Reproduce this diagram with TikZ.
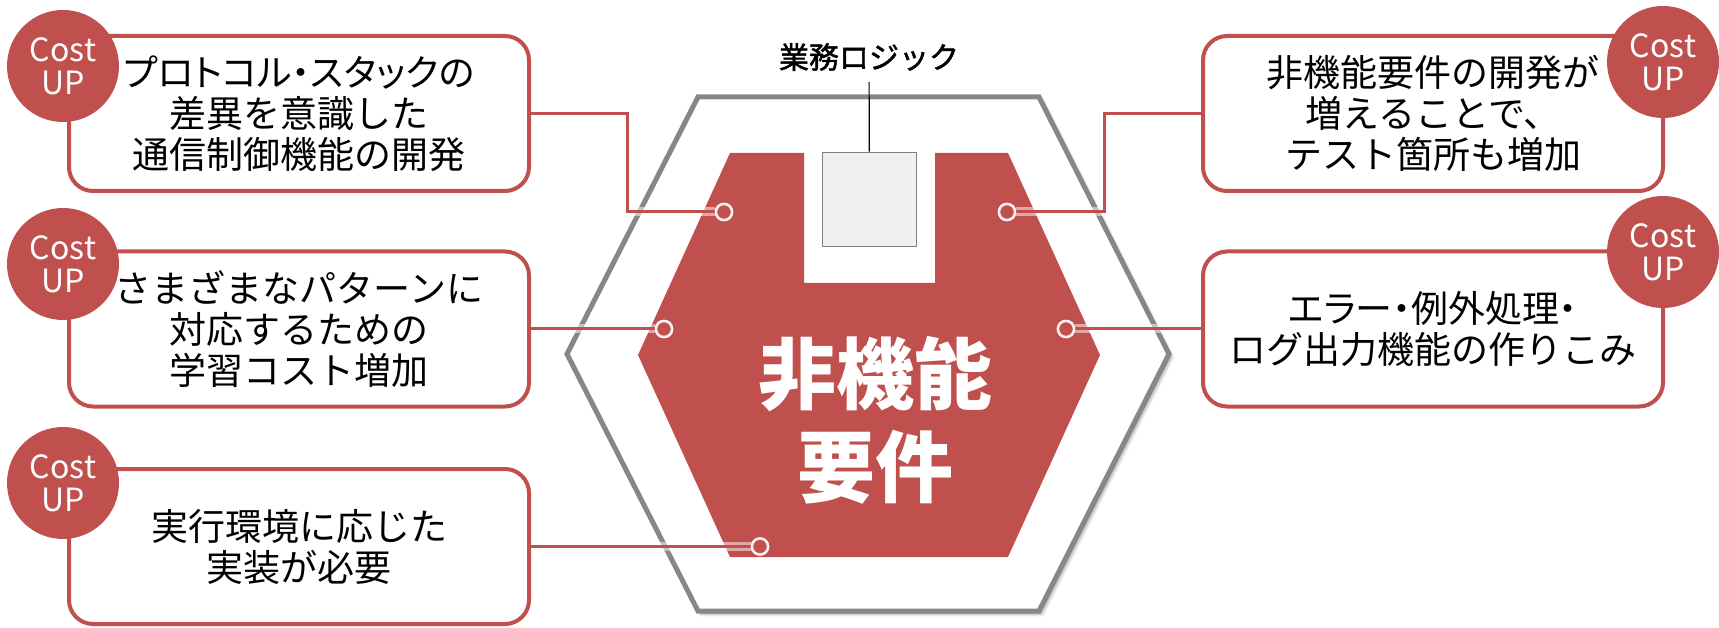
\documentclass[tikz,border=0pt]{standalone}
\usepackage{fontspec}
\setmainfont{Noto Sans CJK JP}
\usetikzlibrary{positioning,shadows.blur}

\definecolor{costred}{HTML}{C0504D}
\definecolor{hexgray}{HTML}{878787}
\definecolor{logicfill}{HTML}{F0F0F0}
\definecolor{logicline}{HTML}{7F7F7F}

\begin{document}
\begin{tikzpicture}[x=1pt,y=-1pt,
  costbox/.style={draw=costred,line width=4pt,rounded corners=24pt,fill=white,
    minimum width=460pt,minimum height=155pt,align=center,
    font=\fontsize{37}{41}\selectfont},
  costmark/.style={circle,fill=costred,minimum size=112pt,inner sep=0pt,
    text=white,align=center,font=\fontsize{32}{33}\selectfont},
  link/.style={draw=costred,line width=3pt,
    preaction={draw=white,line width=9pt,opacity=0.5}},
  joint/.style={circle,fill=costred,draw=white,draw opacity=0.85,
    line width=2.5pt,minimum size=16pt,inner sep=0pt}]

\useasboundingbox (0,0) rectangle (1719,628);

% hexagons
\draw[hexgray,line width=5pt,fill=white,
  blur shadow={shadow xshift=3pt,shadow yshift=-3pt,shadow blur radius=3pt,shadow opacity=35}]
  (698,97) -- (1039,97) -- (1169,354) -- (1039,611) -- (698,611) -- (567,354) -- cycle;
\fill[costred] (730,153) -- (804,153) -- (804,283) -- (935,283) -- (935,153) -- (1008,153)
  -- (1100,355) -- (1008,557) -- (730,557) -- (638,355) -- cycle;

% business logic
\node[draw=logicline,fill=logicfill,line width=1.5pt,minimum width=94pt,minimum height=94pt] (logic) at (869.5,199.5) {};
\node[font=\fontsize{30}{36}\selectfont\addfontfeatures{FakeBold=1.5},inner sep=11pt] (biztag) at (869,57) {業務ロジック};
\draw[line width=1.2pt] (biztag) -- (logic);

\node[text=white,font=\bfseries\fontsize{78}{93}\selectfont,align=center] (nfr) at (875,420) {非機能\\要件};

% joints
\node[joint] (d1) at (724,212) {};
\node[joint] (d2) at (664,329) {};
\node[joint] (d3) at (760,546.5) {};
\node[joint] (d4) at (1007,212) {};
\node[joint] (d5) at (1066,329) {};
\coordinate (k1) at (627,212);
\coordinate (k4) at (1104,212);

% boxes
\node[costbox] (p1) at (299,113.5) {{\addfontfeatures{CharacterWidth=AlternateProportional}プロトコル・スタックの}\\差異を意識した\\通信制御機能の開発};
\node[costbox] (p2) at (299,329) {さまざまなパターンに\\対応するための\\学習コスト増加};
\node[costbox] (p3) at (299,546.5) {実行環境に応じた\\実装が必要};
\node[costbox] (q1) at (1433,113.5) {非機能要件の開発が\\増えることで、\\テスト箇所も増加};
\node[costbox] (q2) at (1433,329) {{\addfontfeatures{CharacterWidth=AlternateProportional}エラー・例外処理・}\\ログ出力機能の作りこみ};

% links
\draw[link] (p1.east) -| (k1) -- (d1);
\draw[link] (p2.east) -- (d2);
\draw[link] (p3.east) -- (d3);
\draw[link] (d4) -- (k4) |- (q1.west);
\draw[link] (d5) -- (q2.west);

\foreach \d in {d1,d2,d3,d4,d5}
  \node[joint] at (\d) {};

% cost marks
\node[costmark] (c1) at (63,66) {Cost\\UP};
\node[costmark] (c2) at (63,264) {Cost\\UP};
\node[costmark] (c3) at (63,483) {Cost\\UP};
\node[costmark] (c4) at (1663,62) {Cost\\UP};
\node[costmark] (c5) at (1663,252) {Cost\\UP};
\end{tikzpicture}
\end{document}
